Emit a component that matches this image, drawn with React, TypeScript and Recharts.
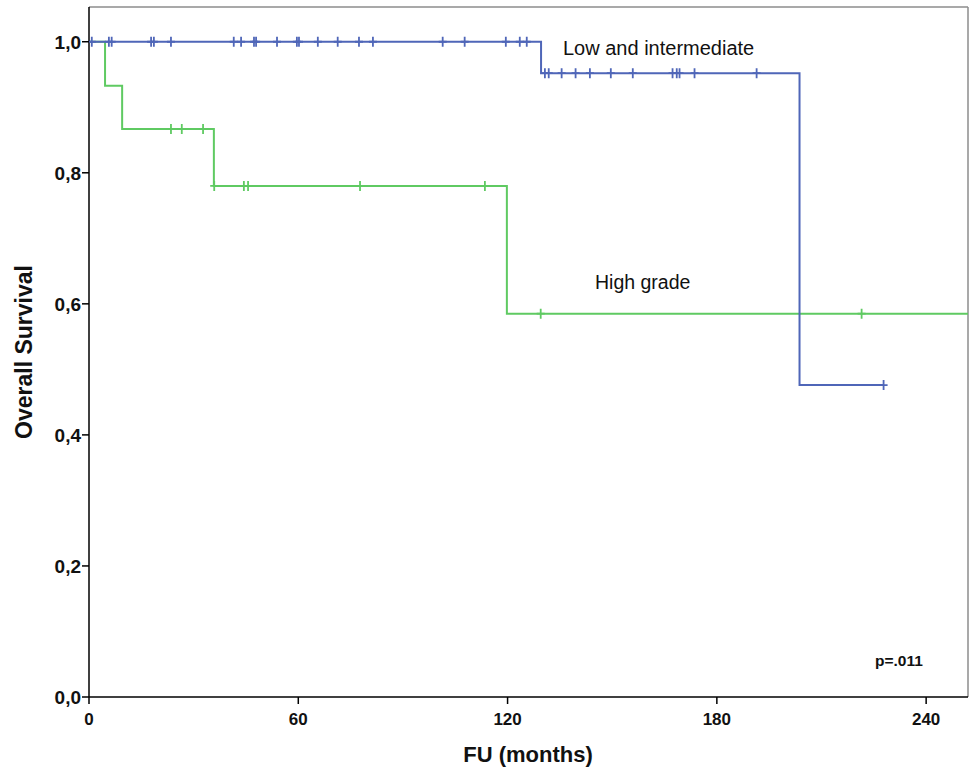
import { ComposedChart, Line, Scatter, XAxis, YAxis, ReferenceLine } from "recharts";

// Kaplan-Meier steps (time in months, cumulative survival)
const lowTimes = [0, 129.6, 203.7, 227.8];
const lowSurvival = [1, 0.952, 0.476, 0.476];
const lowCensored = [
  0.8, 5.7, 6.5, 17.8, 18.6, 23.5, 41.5, 43.6, 47.3, 47.9, 53.9, 59.6, 60.2, 65.6, 71.3, 77.4,
  81.4, 101.4, 107.7, 119.5, 123.5, 125.5, 130.7, 131.8, 135.5, 139.5, 143.6, 149.6, 155.9,
  167.3, 168.5, 169.3, 173.6, 191.4, 227.8,
];

const highTimes = [0, 4.6, 9.5, 35.8, 119.8, 252];
const highSurvival = [1, 0.933, 0.867, 0.78, 0.585, 0.585];
const highCensored = [23.5, 26.6, 32.7, 35.9, 44.4, 45.6, 77.7, 113.5, 129.5, 221.5];

const xTicks = [0, 60, 120, 180, 240];
const yTicks = [0, 0.2, 0.4, 0.6, 0.8, 1.0];
const X_MAX = 252;
const Y_MAX = 1.053;

const BLUE = "#4f66b8";
const GREEN = "#5fca62";
const FONT = "'Liberation Sans', Arial, sans-serif";

const steps = (times: number[], surv: number[]) => times.map((t, i) => ({ t, s: surv[i] }));

// survival value at time t
const survAt = (times: number[], surv: number[], t: number) => {
  let s = surv[0];
  times.forEach((tt, i) => {
    if (tt <= t) s = surv[i];
  });
  return s;
};

const censorPoints = (censored: number[], times: number[], surv: number[]) =>
  censored.map((t) => ({ t, s: survAt(times, surv, t) }));

const lowLine = steps(lowTimes, lowSurvival);
const highLine = steps(highTimes, highSurvival);
const lowMarks = censorPoints(lowCensored, lowTimes, lowSurvival);
const highMarks = censorPoints(highCensored, highTimes, highSurvival);

const CensorMark = (props: any) => {
  const { cx, cy, fill } = props;
  if (cx == null || cy == null) return null;
  return (
    <path
      d={`M${cx - 4},${cy}H${cx + 4}M${cx},${cy - 5}V${cy + 5}`}
      stroke={fill}
      strokeWidth={1.8}
      fill="none"
    />
  );
};

const XTick = (props: any) => {
  const { x, y, payload } = props;
  return (
    <text
      x={x}
      y={y + 21}
      textAnchor="middle"
      fontFamily={FONT}
      fontWeight="bold"
      fontSize={17}
      fill="#111"
    >
      {payload.value}
    </text>
  );
};

const YTick = (props: any) => {
  const { x, y, payload } = props;
  return (
    <text
      x={x - 1}
      y={y + 7}
      textAnchor="end"
      fontFamily={FONT}
      fontWeight="bold"
      fontSize={19}
      fill="#111"
    >
      {Number(payload.value).toFixed(1).replace(".", ",")}
    </text>
  );
};

const App = () => {
  return (
    <div style={{ position: "absolute", left: 0, top: 0, width: 970, height: 772, background: "#fff" }}>
      <ComposedChart width={970} height={772} margin={{ top: 7, right: 2, bottom: 0, left: 0 }}>
        <XAxis
          type="number"
          dataKey="t"
          domain={[0, X_MAX]}
          ticks={xTicks}
          height={75}
          stroke="#000"
          strokeWidth={1.5}
          tickSize={7}
          tickMargin={0}
          tick={<XTick />}
          allowDataOverflow
        />
        <YAxis
          type="number"
          dataKey="s"
          domain={[0, Y_MAX]}
          ticks={yTicks}
          width={89}
          stroke="#000"
          strokeWidth={1.5}
          tickSize={7}
          tickMargin={0}
          tick={<YTick />}
          allowDataOverflow
        />
        <ReferenceLine y={Y_MAX} stroke="#8c8c8c" strokeWidth={1.5} />
        <ReferenceLine x={X_MAX} stroke="#8c8c8c" strokeWidth={1.5} />
        <Line
          data={highLine}
          dataKey="s"
          type="stepAfter"
          stroke={GREEN}
          strokeWidth={2}
          dot={false}
          isAnimationActive={false}
        />
        <Line
          data={lowLine}
          dataKey="s"
          type="stepAfter"
          stroke={BLUE}
          strokeWidth={2}
          dot={false}
          isAnimationActive={false}
        />
        <Scatter data={highMarks} dataKey="s" fill={GREEN} shape={<CensorMark />} isAnimationActive={false} />
        <Scatter data={lowMarks} dataKey="s" fill={BLUE} shape={<CensorMark />} isAnimationActive={false} />
      </ComposedChart>

      <div
        style={{
          position: "absolute",
          left: 24,
          top: 352,
          transform: "translate(-50%, -50%) rotate(-90deg)",
          fontFamily: FONT,
          fontWeight: "bold",
          fontSize: 23,
          whiteSpace: "nowrap",
          color: "#111",
        }}
      >
        Overall Survival
      </div>
      <div
        style={{
          position: "absolute",
          left: 528,
          top: 742,
          transform: "translateX(-50%)",
          fontFamily: FONT,
          fontWeight: "bold",
          fontSize: 22,
          whiteSpace: "nowrap",
          color: "#111",
        }}
      >
        FU (months)
      </div>
      <div style={{ position: "absolute", left: 563, top: 37, fontFamily: FONT, fontSize: 20, color: "#111", whiteSpace: "nowrap" }}>
        Low and intermediate
      </div>
      <div style={{ position: "absolute", left: 595, top: 271, fontFamily: FONT, fontSize: 19.5, color: "#111", whiteSpace: "nowrap" }}>
        High grade
      </div>
      <div style={{ position: "absolute", left: 875, top: 652, fontFamily: FONT, fontWeight: "bold", fontSize: 15.5, color: "#111", whiteSpace: "nowrap" }}>
        p=.011
      </div>
    </div>
  );
};

export default App;
